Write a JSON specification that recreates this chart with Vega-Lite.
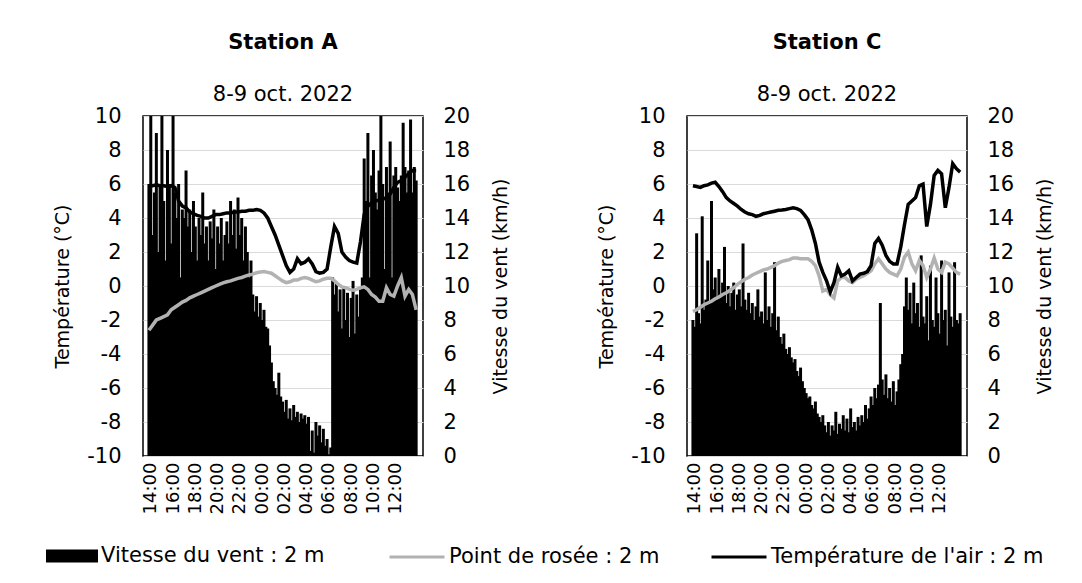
{
"$schema": "https://vega.github.io/schema/vega-lite/v6.json",
"background": "white",
"padding": {"left": 46, "top": 31, "right": 5, "bottom": 5},
"config": {
 "font": "DejaVu Sans",
 "view": {"stroke": "#000", "strokeWidth": 1.5},
 "axis": {"labelFontSize": 21, "titleFontSize": 19, "labelColor": "#000", "titleColor": "#000", "titleFontWeight": "normal", "ticks": false, "domain": false, "grid": false, "labelFlush": false, "labelOverlap": false},
 "title": {"color": "#000", "subtitleColor": "#000"},
 "legend": {"labelFontSize": 21, "labelColor": "#000", "labelLimit": 0}
},
"datasets": {
"wA": [
{"t":"2022-10-08T13:50","w":16},{"t":"2022-10-08T14:00","w":20},{"t":"2022-10-08T14:10","w":13},{"t":"2022-10-08T14:20","w":15.5},{"t":"2022-10-08T14:30","w":19},{"t":"2022-10-08T14:40","w":12},{"t":"2022-10-08T14:50","w":16},{"t":"2022-10-08T15:00","w":20},{"t":"2022-10-08T15:10","w":15},{"t":"2022-10-08T15:20","w":11.5},
{"t":"2022-10-08T15:30","w":18},{"t":"2022-10-08T15:40","w":16},{"t":"2022-10-08T15:50","w":12.5},{"t":"2022-10-08T16:00","w":20},{"t":"2022-10-08T16:10","w":15.5},{"t":"2022-10-08T16:20","w":14},{"t":"2022-10-08T16:30","w":16},{"t":"2022-10-08T16:40","w":10.5},{"t":"2022-10-08T16:50","w":14.5},{"t":"2022-10-08T17:00","w":14},
{"t":"2022-10-08T17:10","w":16.8},{"t":"2022-10-08T17:20","w":13.5},{"t":"2022-10-08T17:30","w":14.5},{"t":"2022-10-08T17:40","w":12},{"t":"2022-10-08T17:50","w":15},{"t":"2022-10-08T18:00","w":13.5},{"t":"2022-10-08T18:10","w":11.5},{"t":"2022-10-08T18:20","w":14},{"t":"2022-10-08T18:30","w":13},{"t":"2022-10-08T18:40","w":15.5},
{"t":"2022-10-08T18:50","w":12.5},{"t":"2022-10-08T19:00","w":13.5},{"t":"2022-10-08T19:10","w":11.5},{"t":"2022-10-08T19:20","w":13.8},{"t":"2022-10-08T19:30","w":12.8},{"t":"2022-10-08T19:40","w":14.5},{"t":"2022-10-08T19:50","w":11},{"t":"2022-10-08T20:00","w":13.5},{"t":"2022-10-08T20:10","w":12.5},{"t":"2022-10-08T20:20","w":14},
{"t":"2022-10-08T20:30","w":11.5},{"t":"2022-10-08T20:40","w":13},{"t":"2022-10-08T20:50","w":13.8},{"t":"2022-10-08T21:00","w":12.5},{"t":"2022-10-08T21:10","w":15},{"t":"2022-10-08T21:20","w":13},{"t":"2022-10-08T21:30","w":14.5},{"t":"2022-10-08T21:40","w":12.2},{"t":"2022-10-08T21:50","w":15.2},{"t":"2022-10-08T22:00","w":13},
{"t":"2022-10-08T22:10","w":14},{"t":"2022-10-08T22:20","w":11.5},{"t":"2022-10-08T22:30","w":13.5},{"t":"2022-10-08T22:40","w":12},{"t":"2022-10-08T22:50","w":10.5},{"t":"2022-10-08T23:00","w":11.5},{"t":"2022-10-08T23:10","w":9.5},{"t":"2022-10-08T23:20","w":8.5},{"t":"2022-10-08T23:30","w":9.4},{"t":"2022-10-08T23:40","w":8.2},
{"t":"2022-10-08T23:50","w":9},{"t":"2022-10-09T00:00","w":8},{"t":"2022-10-09T00:10","w":8.6},{"t":"2022-10-09T00:20","w":7.6},{"t":"2022-10-09T00:30","w":7.5},{"t":"2022-10-09T00:40","w":6.5},{"t":"2022-10-09T00:50","w":5.5},{"t":"2022-10-09T01:00","w":4.4},{"t":"2022-10-09T01:10","w":4.0},{"t":"2022-10-09T01:20","w":3.6},
{"t":"2022-10-09T01:30","w":4.9},{"t":"2022-10-09T01:40","w":3.5},{"t":"2022-10-09T01:50","w":3.2},{"t":"2022-10-09T02:00","w":2.6},{"t":"2022-10-09T02:10","w":3.3},{"t":"2022-10-09T02:20","w":2.2},{"t":"2022-10-09T02:30","w":2.8},{"t":"2022-10-09T02:40","w":2.1},{"t":"2022-10-09T02:50","w":3.0},{"t":"2022-10-09T03:00","w":2.3},
{"t":"2022-10-09T03:10","w":2.6},{"t":"2022-10-09T03:20","w":2.0},{"t":"2022-10-09T03:30","w":2.5},{"t":"2022-10-09T03:40","w":2.2},{"t":"2022-10-09T03:50","w":2.4},{"t":"2022-10-09T04:00","w":1.9},{"t":"2022-10-09T04:10","w":2.3},{"t":"2022-10-09T04:20","w":0.3},{"t":"2022-10-09T04:30","w":1.5},{"t":"2022-10-09T04:40","w":0.2},
{"t":"2022-10-09T04:50","w":2.0},{"t":"2022-10-09T05:00","w":1.2},{"t":"2022-10-09T05:10","w":1.8},{"t":"2022-10-09T05:20","w":0.8},{"t":"2022-10-09T05:30","w":1.6},{"t":"2022-10-09T05:40","w":0.6},{"t":"2022-10-09T05:50","w":1.0},{"t":"2022-10-09T06:00","w":0.1},{"t":"2022-10-09T06:10","w":0.5},{"t":"2022-10-09T06:20","w":10.5},
{"t":"2022-10-09T06:30","w":9.5},{"t":"2022-10-09T06:40","w":10.2},{"t":"2022-10-09T06:50","w":8.5},{"t":"2022-10-09T07:00","w":9.8},{"t":"2022-10-09T07:10","w":7.5},{"t":"2022-10-09T07:20","w":10},{"t":"2022-10-09T07:30","w":8},{"t":"2022-10-09T07:40","w":9.6},{"t":"2022-10-09T07:50","w":7},{"t":"2022-10-09T08:00","w":9.3},
{"t":"2022-10-09T08:10","w":10.3},{"t":"2022-10-09T08:20","w":7.2},{"t":"2022-10-09T08:30","w":9.5},{"t":"2022-10-09T08:40","w":8.2},{"t":"2022-10-09T08:50","w":9.8},{"t":"2022-10-09T09:00","w":10.5},{"t":"2022-10-09T09:10","w":17.5},{"t":"2022-10-09T09:20","w":15},{"t":"2022-10-09T09:30","w":19},{"t":"2022-10-09T09:40","w":10.5},
{"t":"2022-10-09T09:50","w":16.5},{"t":"2022-10-09T10:00","w":18},{"t":"2022-10-09T10:10","w":15.5},{"t":"2022-10-09T10:20","w":14.5},{"t":"2022-10-09T10:30","w":16.8},{"t":"2022-10-09T10:40","w":20},{"t":"2022-10-09T10:50","w":16},{"t":"2022-10-09T11:00","w":11},{"t":"2022-10-09T11:10","w":17},{"t":"2022-10-09T11:20","w":15.5},
{"t":"2022-10-09T11:30","w":18.5},{"t":"2022-10-09T11:40","w":10.5},{"t":"2022-10-09T11:50","w":16.5},{"t":"2022-10-09T12:00","w":17},{"t":"2022-10-09T12:10","w":15.8},{"t":"2022-10-09T12:20","w":15},{"t":"2022-10-09T12:30","w":16.5},{"t":"2022-10-09T12:40","w":19.6},{"t":"2022-10-09T12:50","w":17},{"t":"2022-10-09T13:00","w":15.5},
{"t":"2022-10-09T13:10","w":16.8},{"t":"2022-10-09T13:20","w":19.8},{"t":"2022-10-09T13:30","w":15.5},{"t":"2022-10-09T13:40","w":17},{"t":"2022-10-09T13:50","w":16.2}
],
"wC": [
{"t":"2022-10-08T13:50","w":8.0},{"t":"2022-10-08T14:00","w":7.6},{"t":"2022-10-08T14:10","w":13.1},{"t":"2022-10-08T14:20","w":8.4},{"t":"2022-10-08T14:30","w":7.8},{"t":"2022-10-08T14:40","w":14.1},{"t":"2022-10-08T14:50","w":8.6},{"t":"2022-10-08T15:00","w":9.2},{"t":"2022-10-08T15:10","w":11.5},{"t":"2022-10-08T15:20","w":9.0},
{"t":"2022-10-08T15:30","w":15.0},{"t":"2022-10-08T15:40","w":9.8},{"t":"2022-10-08T15:50","w":10.5},{"t":"2022-10-08T16:00","w":9.2},{"t":"2022-10-08T16:10","w":11},{"t":"2022-10-08T16:20","w":9.5},{"t":"2022-10-08T16:30","w":10.2},{"t":"2022-10-08T16:40","w":12.3},{"t":"2022-10-08T16:50","w":9.0},{"t":"2022-10-08T17:00","w":10.0},
{"t":"2022-10-08T17:10","w":8.8},{"t":"2022-10-08T17:20","w":9.6},{"t":"2022-10-08T17:30","w":10.2},{"t":"2022-10-08T17:40","w":8.6},{"t":"2022-10-08T17:50","w":9.5},{"t":"2022-10-08T18:00","w":9.8},{"t":"2022-10-08T18:10","w":8.8},{"t":"2022-10-08T18:20","w":12.5},{"t":"2022-10-08T18:30","w":9.2},{"t":"2022-10-08T18:40","w":8.6},
{"t":"2022-10-08T18:50","w":9.6},{"t":"2022-10-08T19:00","w":8.4},{"t":"2022-10-08T19:10","w":9.0},{"t":"2022-10-08T19:20","w":8.0},{"t":"2022-10-08T19:30","w":8.8},{"t":"2022-10-08T19:40","w":9.8},{"t":"2022-10-08T19:50","w":8.2},{"t":"2022-10-08T20:00","w":8.5},{"t":"2022-10-08T20:10","w":7.8},{"t":"2022-10-08T20:20","w":10.8},
{"t":"2022-10-08T20:30","w":8.0},{"t":"2022-10-08T20:40","w":8.8},{"t":"2022-10-08T20:50","w":7.6},{"t":"2022-10-08T21:00","w":8.4},{"t":"2022-10-08T21:10","w":11.4},{"t":"2022-10-08T21:20","w":7.4},{"t":"2022-10-08T21:30","w":8.2},{"t":"2022-10-08T21:40","w":7.0},{"t":"2022-10-08T21:50","w":6.6},{"t":"2022-10-08T22:00","w":7.2},
{"t":"2022-10-08T22:10","w":6.3},{"t":"2022-10-08T22:20","w":6.0},{"t":"2022-10-08T22:30","w":6.4},{"t":"2022-10-08T22:40","w":5.8},{"t":"2022-10-08T22:50","w":5.5},{"t":"2022-10-08T23:00","w":5.7},{"t":"2022-10-08T23:10","w":5.0},{"t":"2022-10-08T23:20","w":4.7},{"t":"2022-10-08T23:30","w":5.2},{"t":"2022-10-08T23:40","w":4.4},
{"t":"2022-10-08T23:50","w":4.0},{"t":"2022-10-09T00:00","w":3.7},{"t":"2022-10-09T00:10","w":3.4},{"t":"2022-10-09T00:20","w":3.5},{"t":"2022-10-09T00:30","w":3.0},{"t":"2022-10-09T00:40","w":2.8},{"t":"2022-10-09T00:50","w":3.2},{"t":"2022-10-09T01:00","w":2.5},{"t":"2022-10-09T01:10","w":2.3},{"t":"2022-10-09T01:20","w":2.0},
{"t":"2022-10-09T01:30","w":2.4},{"t":"2022-10-09T01:40","w":1.8},{"t":"2022-10-09T01:50","w":1.4},{"t":"2022-10-09T02:00","w":2.0},{"t":"2022-10-09T02:10","w":1.2},{"t":"2022-10-09T02:20","w":1.8},{"t":"2022-10-09T02:30","w":1.5},{"t":"2022-10-09T02:40","w":2.6},{"t":"2022-10-09T02:50","w":1.3},{"t":"2022-10-09T03:00","w":1.9},
{"t":"2022-10-09T03:10","w":1.6},{"t":"2022-10-09T03:20","w":2.4},{"t":"2022-10-09T03:30","w":1.5},{"t":"2022-10-09T03:40","w":2.2},{"t":"2022-10-09T03:50","w":1.4},{"t":"2022-10-09T04:00","w":2.8},{"t":"2022-10-09T04:10","w":1.7},{"t":"2022-10-09T04:20","w":2.0},{"t":"2022-10-09T04:30","w":1.5},{"t":"2022-10-09T04:40","w":2.3},
{"t":"2022-10-09T04:50","w":1.8},{"t":"2022-10-09T05:00","w":2.4},{"t":"2022-10-09T05:10","w":2.0},{"t":"2022-10-09T05:20","w":3.0},{"t":"2022-10-09T05:30","w":2.2},{"t":"2022-10-09T05:40","w":2.8},{"t":"2022-10-09T05:50","w":3.5},{"t":"2022-10-09T06:00","w":3.0},{"t":"2022-10-09T06:10","w":4.0},{"t":"2022-10-09T06:20","w":3.4},
{"t":"2022-10-09T06:30","w":4.2},{"t":"2022-10-09T06:40","w":9.0},{"t":"2022-10-09T06:50","w":4.5},{"t":"2022-10-09T07:00","w":3.6},{"t":"2022-10-09T07:10","w":4.8},{"t":"2022-10-09T07:20","w":3.4},{"t":"2022-10-09T07:30","w":4.0},{"t":"2022-10-09T07:40","w":3.2},{"t":"2022-10-09T07:50","w":4.4},{"t":"2022-10-09T08:00","w":3.0},
{"t":"2022-10-09T08:10","w":3.8},{"t":"2022-10-09T08:20","w":4.5},{"t":"2022-10-09T08:30","w":5.4},{"t":"2022-10-09T08:40","w":6.0},{"t":"2022-10-09T08:50","w":8.8},{"t":"2022-10-09T09:00","w":10.5},{"t":"2022-10-09T09:10","w":8.6},{"t":"2022-10-09T09:20","w":9.6},{"t":"2022-10-09T09:30","w":7.8},{"t":"2022-10-09T09:40","w":10.2},
{"t":"2022-10-09T09:50","w":8.4},{"t":"2022-10-09T10:00","w":9.0},{"t":"2022-10-09T10:10","w":7.6},{"t":"2022-10-09T10:20","w":11.8},{"t":"2022-10-09T10:30","w":8.2},{"t":"2022-10-09T10:40","w":7.8},{"t":"2022-10-09T10:50","w":9.4},{"t":"2022-10-09T11:00","w":6.8},{"t":"2022-10-09T11:10","w":11.2},{"t":"2022-10-09T11:20","w":8.0},
{"t":"2022-10-09T11:30","w":7.6},{"t":"2022-10-09T11:40","w":10.5},{"t":"2022-10-09T11:50","w":8.4},{"t":"2022-10-09T12:00","w":7.2},{"t":"2022-10-09T12:10","w":11.5},{"t":"2022-10-09T12:20","w":8.0},{"t":"2022-10-09T12:30","w":8.6},{"t":"2022-10-09T12:40","w":6.5},{"t":"2022-10-09T12:50","w":10.8},{"t":"2022-10-09T13:00","w":8.2},
{"t":"2022-10-09T13:10","w":7.6},{"t":"2022-10-09T13:20","w":11.4},{"t":"2022-10-09T13:30","w":8.0},{"t":"2022-10-09T13:40","w":7.8},{"t":"2022-10-09T13:50","w":8.4}
],
"lA": [
{"t":"2022-10-08T13:50","T":5.9,"D":-2.6},{"t":"2022-10-08T14:10","T":5.9,"D":-2.3},{"t":"2022-10-08T14:30","T":5.95,"D":-2.0},{"t":"2022-10-08T14:50","T":5.9,"D":-1.9},{"t":"2022-10-08T15:10","T":5.9,"D":-1.8},{"t":"2022-10-08T15:30","T":5.85,"D":-1.7},{"t":"2022-10-08T15:50","T":5.9,"D":-1.4},{"t":"2022-10-08T16:10","T":5.8,"D":-1.25},
{"t":"2022-10-08T16:30","T":5.0,"D":-1.1},{"t":"2022-10-08T16:50","T":4.7,"D":-0.95},{"t":"2022-10-08T17:10","T":4.6,"D":-0.85},{"t":"2022-10-08T17:30","T":4.35,"D":-0.7},{"t":"2022-10-08T17:50","T":4.25,"D":-0.6},{"t":"2022-10-08T18:10","T":4.15,"D":-0.5},{"t":"2022-10-08T18:30","T":4.1,"D":-0.4},{"t":"2022-10-08T18:50","T":4.0,"D":-0.3},
{"t":"2022-10-08T19:10","T":4.0,"D":-0.2},{"t":"2022-10-08T19:30","T":4.1,"D":-0.1},{"t":"2022-10-08T19:50","T":4.2,"D":0.0},{"t":"2022-10-08T20:10","T":4.2,"D":0.1},{"t":"2022-10-08T20:30","T":4.25,"D":0.18},{"t":"2022-10-08T20:50","T":4.3,"D":0.25},{"t":"2022-10-08T21:10","T":4.3,"D":0.3},{"t":"2022-10-08T21:30","T":4.35,"D":0.38},
{"t":"2022-10-08T21:50","T":4.35,"D":0.45},{"t":"2022-10-08T22:10","T":4.4,"D":0.5},{"t":"2022-10-08T22:30","T":4.4,"D":0.58},{"t":"2022-10-08T22:50","T":4.45,"D":0.65},{"t":"2022-10-08T23:10","T":4.45,"D":0.7},{"t":"2022-10-08T23:30","T":4.5,"D":0.78},{"t":"2022-10-08T23:50","T":4.45,"D":0.82},
{"t":"2022-10-09T00:10","T":4.3,"D":0.85},{"t":"2022-10-09T00:30","T":4.0,"D":0.8},{"t":"2022-10-09T00:50","T":3.5,"D":0.75},{"t":"2022-10-09T01:10","T":3.0,"D":0.6},{"t":"2022-10-09T01:30","T":2.4,"D":0.45},{"t":"2022-10-09T01:50","T":1.8,"D":0.3},{"t":"2022-10-09T02:10","T":1.2,"D":0.2},{"t":"2022-10-09T02:30","T":0.8,"D":0.25},
{"t":"2022-10-09T02:50","T":1.0,"D":0.35},{"t":"2022-10-09T03:10","T":1.6,"D":0.35},{"t":"2022-10-09T03:30","T":1.3,"D":0.45},{"t":"2022-10-09T03:50","T":1.4,"D":0.5},{"t":"2022-10-09T04:10","T":1.6,"D":0.45},{"t":"2022-10-09T04:30","T":1.3,"D":0.35},{"t":"2022-10-09T04:50","T":0.85,"D":0.25},{"t":"2022-10-09T05:10","T":0.76,"D":0.3},
{"t":"2022-10-09T05:30","T":0.8,"D":0.4},{"t":"2022-10-09T05:50","T":1.0,"D":0.45},{"t":"2022-10-09T06:10","T":2.3,"D":0.45},{"t":"2022-10-09T06:30","T":3.5,"D":0.3},{"t":"2022-10-09T06:50","T":3.1,"D":0.1},{"t":"2022-10-09T07:10","T":2.0,"D":-0.05},{"t":"2022-10-09T07:30","T":1.7,"D":-0.1},{"t":"2022-10-09T07:50","T":1.5,"D":-0.2},
{"t":"2022-10-09T08:10","T":1.4,"D":-0.25},{"t":"2022-10-09T08:30","T":1.35,"D":-0.2},{"t":"2022-10-09T08:50","T":2.6,"D":-0.1},{"t":"2022-10-09T09:10","T":4.2,"D":-0.05},{"t":"2022-10-09T09:30","T":4.7,"D":-0.2},{"t":"2022-10-09T09:50","T":4.9,"D":-0.5},{"t":"2022-10-09T10:10","T":5.0,"D":-0.65},{"t":"2022-10-09T10:30","T":5.05,"D":-0.9},
{"t":"2022-10-09T10:50","T":5.1,"D":-0.9},{"t":"2022-10-09T11:10","T":5.2,"D":-0.1},{"t":"2022-10-09T11:30","T":5.4,"D":-0.5},{"t":"2022-10-09T11:50","T":5.8,"D":-0.6},{"t":"2022-10-09T12:10","T":6.1,"D":0.0},{"t":"2022-10-09T12:30","T":6.2,"D":0.5},{"t":"2022-10-09T12:50","T":6.4,"D":-0.6},{"t":"2022-10-09T13:10","T":6.6,"D":-0.2},
{"t":"2022-10-09T13:30","T":6.8,"D":-0.5},{"t":"2022-10-09T13:50","T":6.8,"D":-1.4}
],
"lC": [
{"t":"2022-10-08T13:50","T":5.9,"D":-1.5},{"t":"2022-10-08T14:10","T":5.85,"D":-1.4},{"t":"2022-10-08T14:30","T":5.8,"D":-1.25},{"t":"2022-10-08T14:50","T":5.9,"D":-1.1},{"t":"2022-10-08T15:10","T":5.95,"D":-1.0},{"t":"2022-10-08T15:30","T":6.05,"D":-0.9},{"t":"2022-10-08T15:50","T":6.1,"D":-0.75},{"t":"2022-10-08T16:10","T":5.85,"D":-0.65},
{"t":"2022-10-08T16:30","T":5.55,"D":-0.5},{"t":"2022-10-08T16:50","T":5.2,"D":-0.4},{"t":"2022-10-08T17:10","T":5.0,"D":-0.25},{"t":"2022-10-08T17:30","T":4.85,"D":-0.1},{"t":"2022-10-08T17:50","T":4.7,"D":0.1},{"t":"2022-10-08T18:10","T":4.5,"D":0.25},{"t":"2022-10-08T18:30","T":4.35,"D":0.4},{"t":"2022-10-08T18:50","T":4.25,"D":0.5},
{"t":"2022-10-08T19:10","T":4.2,"D":0.65},{"t":"2022-10-08T19:30","T":4.1,"D":0.75},{"t":"2022-10-08T19:50","T":4.15,"D":0.85},{"t":"2022-10-08T20:10","T":4.25,"D":0.95},{"t":"2022-10-08T20:30","T":4.3,"D":1.0},{"t":"2022-10-08T20:50","T":4.35,"D":1.1},{"t":"2022-10-08T21:10","T":4.4,"D":1.2},{"t":"2022-10-08T21:30","T":4.45,"D":1.35},
{"t":"2022-10-08T21:50","T":4.47,"D":1.45},{"t":"2022-10-08T22:10","T":4.5,"D":1.5},{"t":"2022-10-08T22:30","T":4.55,"D":1.55},{"t":"2022-10-08T22:50","T":4.6,"D":1.65},{"t":"2022-10-08T23:10","T":4.55,"D":1.65},{"t":"2022-10-08T23:30","T":4.45,"D":1.6},{"t":"2022-10-08T23:50","T":4.2,"D":1.6},
{"t":"2022-10-09T00:10","T":3.9,"D":1.6},{"t":"2022-10-09T00:30","T":3.3,"D":1.45},{"t":"2022-10-09T00:50","T":2.5,"D":1.2},{"t":"2022-10-09T01:10","T":1.4,"D":0.6},{"t":"2022-10-09T01:30","T":0.8,"D":-0.3},{"t":"2022-10-09T01:50","T":0.3,"D":-0.2},{"t":"2022-10-09T02:10","T":-0.35,"D":-0.5},{"t":"2022-10-09T02:30","T":0.2,"D":-0.7},
{"t":"2022-10-09T02:50","T":1.1,"D":0.3},{"t":"2022-10-09T03:10","T":0.6,"D":0.5},{"t":"2022-10-09T03:30","T":0.7,"D":0.5},{"t":"2022-10-09T03:50","T":0.9,"D":0.3},{"t":"2022-10-09T04:10","T":0.3,"D":0.2},{"t":"2022-10-09T04:30","T":0.5,"D":0.4},{"t":"2022-10-09T04:50","T":0.7,"D":0.5},{"t":"2022-10-09T05:10","T":0.75,"D":0.6},
{"t":"2022-10-09T05:30","T":0.85,"D":0.75},{"t":"2022-10-09T05:50","T":1.2,"D":0.9},{"t":"2022-10-09T06:10","T":2.5,"D":1.3},{"t":"2022-10-09T06:30","T":2.8,"D":1.6},{"t":"2022-10-09T06:50","T":2.4,"D":1.3},{"t":"2022-10-09T07:10","T":1.8,"D":1.0},{"t":"2022-10-09T07:30","T":1.45,"D":0.8},{"t":"2022-10-09T07:50","T":1.3,"D":0.7},
{"t":"2022-10-09T08:10","T":1.3,"D":0.6},{"t":"2022-10-09T08:30","T":2.3,"D":1.0},{"t":"2022-10-09T08:50","T":3.6,"D":1.7},{"t":"2022-10-09T09:10","T":4.8,"D":2.0},{"t":"2022-10-09T09:30","T":5.0,"D":1.3},{"t":"2022-10-09T09:50","T":5.2,"D":0.9},{"t":"2022-10-09T10:10","T":5.9,"D":1.5},{"t":"2022-10-09T10:30","T":6.0,"D":1.2},
{"t":"2022-10-09T10:50","T":3.5,"D":0.5},{"t":"2022-10-09T11:10","T":4.8,"D":1.0},{"t":"2022-10-09T11:30","T":6.5,"D":1.65},{"t":"2022-10-09T11:50","T":6.8,"D":1.0},{"t":"2022-10-09T12:10","T":6.6,"D":0.8},{"t":"2022-10-09T12:30","T":4.6,"D":1.4},{"t":"2022-10-09T12:50","T":5.8,"D":1.3},{"t":"2022-10-09T13:10","T":7.2,"D":1.05},
{"t":"2022-10-09T13:30","T":6.9,"D":0.8},{"t":"2022-10-09T13:50","T":6.7,"D":0.7}
]
},
"spacing": 84,
"hconcat": [
{
 "title": {"text": "Station A", "subtitle": "8-9 oct. 2022", "anchor": "middle", "frame": "group", "fontSize": 21, "fontWeight": "bold", "subtitleFontSize": 21, "subtitlePadding": 31, "offset": 0},
 "width": 280, "height": 340,
 "encoding": {"x": {"field": "t", "type": "temporal", "scale": {"domain": [{"year":2022,"month":10,"date":8,"hours":13,"minutes":45},{"year":2022,"month":10,"date":9,"hours":14}]},
   "axis": {"title": null, "format": "%H:%M", "labelAngle": 270, "labelFontSize": 18, "labelPadding": 6,
   "values": [{"year":2022,"month":10,"date":8,"hours":14},{"year":2022,"month":10,"date":8,"hours":16},{"year":2022,"month":10,"date":8,"hours":18},{"year":2022,"month":10,"date":8,"hours":20},{"year":2022,"month":10,"date":8,"hours":22},{"year":2022,"month":10,"date":9,"hours":0},{"year":2022,"month":10,"date":9,"hours":2},{"year":2022,"month":10,"date":9,"hours":4},{"year":2022,"month":10,"date":9,"hours":6},{"year":2022,"month":10,"date":9,"hours":8},{"year":2022,"month":10,"date":9,"hours":10},{"year":2022,"month":10,"date":9,"hours":12}]}}},
 "layer": [
  {"data": {"name": "wA"}, "mark": {"type": "bar", "width": 3, "clip": true},
   "encoding": {"y": {"field": "w", "type": "quantitative", "scale": {"domain": [0, 20]}, "axis": {"orient": "right", "title": "Vitesse du vent (km/h)", "titleAngle": 270, "titleBaseline": "top", "values": [0,2,4,6,8,10,12,14,16,18,20], "labelPadding": 20, "titlePadding": 22}},
    "fill": {"datum": "Vitesse du vent : 2 m", "type": "nominal", "scale": {"domain": ["Vitesse du vent : 2 m"], "range": ["#000000"]}, "legend": {"orient": "none", "legendX": -97, "legendY": 414, "title": null, "symbolType": "M-1,-0.25H1V0.25H-1Z", "symbolSize": 2704, "symbolStrokeWidth": 0, "labelOffset": 3}}}},
  {"data": {"name": "lA"}, "layer": [
    {"mark": {"type": "line", "strokeWidth": 3.5, "clip": true}, "encoding": {"y": {"field": "D", "type": "quantitative", "scale": {"domain": [-10, 10]}, "axis": {"orient": "left", "title": "Température (°C)", "values": [-10,-8,-6,-4,-2,0,2,4,6,8,10], "labelExpr": "toString(datum.value)", "grid": true, "gridColor": "#dadada", "labelPadding": 22, "titlePadding": 14}},
      "stroke": {"datum": "Point de rosée : 2 m", "type": "nominal", "scale": {"domain": ["Point de rosée : 2 m", "Température de l'air : 2 m"], "range": ["#b2b2b2", "#000000"]}, "legend": {"orient": "none", "legendX": 245, "legendY": 412, "direction": "horizontal", "title": null, "symbolType": "stroke", "symbolSize": 3025, "symbolStrokeWidth": 3, "labelOffset": 3, "columnPadding": 45}}}},
    {"mark": {"type": "line", "strokeWidth": 3.5, "clip": true}, "encoding": {"y": {"field": "T", "type": "quantitative", "scale": {"domain": [-10, 10]}, "axis": {"orient": "left", "title": "Température (°C)", "values": [-10,-8,-6,-4,-2,0,2,4,6,8,10], "labelExpr": "toString(datum.value)", "grid": true, "gridColor": "#dadada", "labelPadding": 22, "titlePadding": 14}},
      "stroke": {"datum": "Température de l'air : 2 m", "type": "nominal"}}}
  ]}
 ],
 "resolve": {"scale": {"y": "independent"}}
},
{
 "title": {"text": "Station C", "subtitle": "8-9 oct. 2022", "anchor": "middle", "frame": "group", "fontSize": 21, "fontWeight": "bold", "subtitleFontSize": 21, "subtitlePadding": 31, "offset": 0},
 "width": 280, "height": 340,
 "encoding": {"x": {"field": "t", "type": "temporal", "scale": {"domain": [{"year":2022,"month":10,"date":8,"hours":13,"minutes":45},{"year":2022,"month":10,"date":9,"hours":14}]},
   "axis": {"title": null, "format": "%H:%M", "labelAngle": 270, "labelFontSize": 18, "labelPadding": 6,
   "values": [{"year":2022,"month":10,"date":8,"hours":14},{"year":2022,"month":10,"date":8,"hours":16},{"year":2022,"month":10,"date":8,"hours":18},{"year":2022,"month":10,"date":8,"hours":20},{"year":2022,"month":10,"date":8,"hours":22},{"year":2022,"month":10,"date":9,"hours":0},{"year":2022,"month":10,"date":9,"hours":2},{"year":2022,"month":10,"date":9,"hours":4},{"year":2022,"month":10,"date":9,"hours":6},{"year":2022,"month":10,"date":9,"hours":8},{"year":2022,"month":10,"date":9,"hours":10},{"year":2022,"month":10,"date":9,"hours":12}]}}},
 "layer": [
  {"data": {"name": "wC"}, "mark": {"type": "bar", "width": 3, "clip": true},
   "encoding": {"y": {"field": "w", "type": "quantitative", "scale": {"domain": [0, 20]}, "axis": {"orient": "right", "title": "Vitesse du vent (km/h)", "titleAngle": 270, "titleBaseline": "top", "values": [0,2,4,6,8,10,12,14,16,18,20], "labelPadding": 20, "titlePadding": 22}},
    "fill": {"datum": "Vitesse du vent : 2 m", "type": "nominal"}}},
  {"data": {"name": "lC"}, "layer": [
    {"mark": {"type": "line", "strokeWidth": 3.5, "clip": true}, "encoding": {"y": {"field": "D", "type": "quantitative", "scale": {"domain": [-10, 10]}, "axis": {"orient": "left", "title": "Température (°C)", "values": [-10,-8,-6,-4,-2,0,2,4,6,8,10], "labelExpr": "toString(datum.value)", "grid": true, "gridColor": "#dadada", "labelPadding": 22, "titlePadding": 14}},
      "stroke": {"datum": "Point de rosée : 2 m", "type": "nominal"}}},
    {"mark": {"type": "line", "strokeWidth": 3.5, "clip": true}, "encoding": {"y": {"field": "T", "type": "quantitative", "scale": {"domain": [-10, 10]}, "axis": {"orient": "left", "title": "Température (°C)", "values": [-10,-8,-6,-4,-2,0,2,4,6,8,10], "labelExpr": "toString(datum.value)", "grid": true, "gridColor": "#dadada", "labelPadding": 22, "titlePadding": 14}},
      "stroke": {"datum": "Température de l'air : 2 m", "type": "nominal"}}}
  ]}
 ],
 "resolve": {"scale": {"y": "independent"}}
}
]
}
